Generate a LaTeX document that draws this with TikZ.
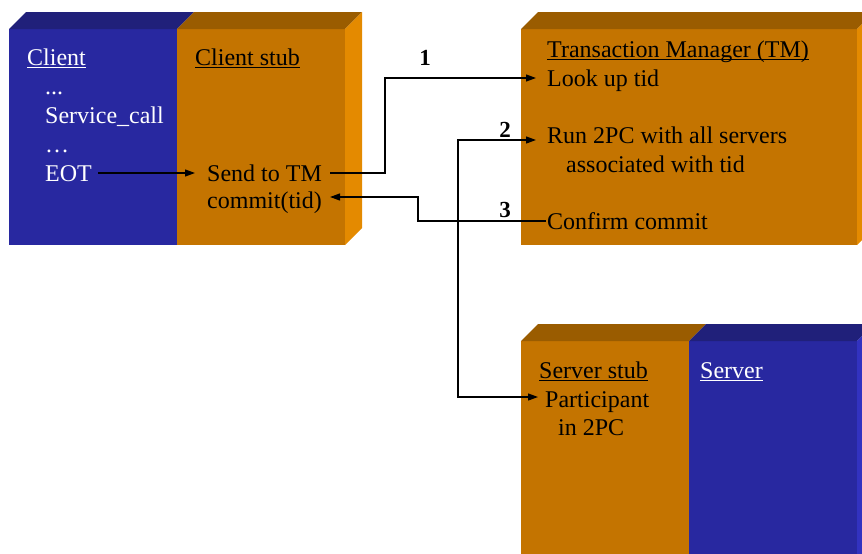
\documentclass[tikz,border=0pt]{standalone}
\usepackage{fontspec}
\setmainfont{Liberation Serif}
\usetikzlibrary{arrows.meta,calc}

% colours of the blocks
\definecolor{bluefront}{HTML}{2828A0}
\definecolor{bluetop}{HTML}{20207A}
\definecolor{blueside}{HTML}{3232C0}
\definecolor{orfront}{HTML}{C47400}
\definecolor{ortop}{HTML}{9A5C00}
\definecolor{orside}{HTML}{E48A00}

% underlined heading text
\newcommand\ulin[1]{\setbox0\hbox{#1}\rlap{\rule[-3pt]{\wd0}{1.1pt}}\box0}

\tikzset{
  txt/.style={anchor=base west, inner sep=0pt, font=\fontsize{24}{28}\selectfont},
  wtxt/.style={txt, text=white},
  num/.style={inner sep=0pt, font=\fontsize{23}{28}\selectfont\bfseries},
  link/.style={line width=1.2pt, -{Triangle[length=10pt,width=7pt]}},
  link2/.style={line width=1.2pt, {Triangle[length=10pt,width=7pt]}-{Triangle[length=10pt,width=7pt]}},
}

\begin{document}
\begin{tikzpicture}[x=1pt,y=-1pt]
\path[use as bounding box, clip] (0,0) rectangle (862,554);

% Client block (front and top)
\fill[bluefront] (9,29) rectangle (177,245);
\fill[bluetop] (9,29) -- (26,12) -- (194,12) -- (177,29) -- cycle;
% Client stub block
\fill[orfront] (177,29) rectangle (345,245);
\fill[ortop] (177,29) -- (194,12) -- (362,12) -- (345,29) -- cycle;
\fill[orside] (345,29) -- (362,12) -- (362,228) -- (345,245) -- cycle;

% Transaction manager block
\fill[orfront] (521,29) rectangle (857,245);
\fill[ortop] (521,29) -- (538,12) -- (874,12) -- (857,29) -- cycle;
\fill[orside] (857,29) -- (874,12) -- (874,228) -- (857,245) -- cycle;

% Server stub block
\fill[orfront] (521,341) rectangle (689,570);
\fill[ortop] (521,341) -- (538,324) -- (706,324) -- (689,341) -- cycle;
% Server block
\fill[bluefront] (689,341) rectangle (857,570);
\fill[bluetop] (689,341) -- (706,324) -- (874,324) -- (857,341) -- cycle;
\fill[blueside] (857,341) -- (874,324) -- (874,570) -- (857,570) -- cycle;

% Client texts
\node[wtxt] (client) at (27,65) {\ulin{Client}};
\node[wtxt] (dots1) at (45,94) {...};
\node[wtxt] (svc) at (45,123) {Service\_call};
\node[wtxt] (dots2) at (45,152) {…};
\node[wtxt] (eot) at (45,181) {EOT};

% Client stub texts
\node[txt] (cstub) at (195,65) {\ulin{Client stub}};
\node[txt] (send) at (207,181) {Send to TM};
\node[txt] (commit) at (207,208) {commit(tid)};

% Transaction manager texts
\node[txt] (tm) at (547,57) {\ulin{Transaction Manager (TM)}};
\node[txt] (look) at (547,86) {Look up tid};
\node[txt] (run) at (547,143) {Run 2PC with all servers};
\node[txt] (assoc) at (566,172) {associated with tid};
\node[txt] (confirm) at (547,229) {Confirm commit};

% Server stub and server texts
\node[txt] (sstub) at (539,378) {\ulin{Server stub}};
\node[txt] (part) at (545,407) {Participant};
\node[txt] (in2pc) at (558,435) {in 2PC};
\node[wtxt] (server) at (700,378) {\ulin{Server}};

% step numbers
\node[num] (n1) at (425,58) {1};
\node[num] (n2) at (505,130) {2};
\node[num] (n3) at (505,210) {3};

% routing corners
\coordinate (r1) at (385,0);
\coordinate (r2) at (458,0);
\coordinate (r3) at (418,0);

% EOT -> Send to TM
\draw[link] ([xshift=6pt,yshift=8pt]eot.base east) -- ([xshift=-12pt,yshift=8pt]send.base west);
% 1: Send to TM -> Look up tid
\coordinate (s1) at ([xshift=8pt,yshift=8pt]send.base east);
\coordinate (e1) at ([xshift=-11pt,yshift=8pt]look.base west);
\draw[link] (s1) -- (s1 -| r1) -- (e1 -| r1) -- (e1);
% 2: Run 2PC <-> Participant
\coordinate (s2) at ([xshift=-11pt,yshift=3pt]run.base west);
\coordinate (e2) at ([xshift=-7pt,yshift=10pt]part.base west);
\draw[link2] (s2) -- (s2 -| r2) -- (e2 -| r2) -- (e2);
% 3: Confirm commit -> commit(tid)
\coordinate (s3) at ([xshift=-1pt,yshift=8pt]confirm.base west);
\coordinate (e3) at ([xshift=8pt,yshift=11pt]commit.base east);
\draw[link] (s3) -- (s3 -| r3) -- (e3 -| r3) -- (e3);
\end{tikzpicture}
\end{document}
